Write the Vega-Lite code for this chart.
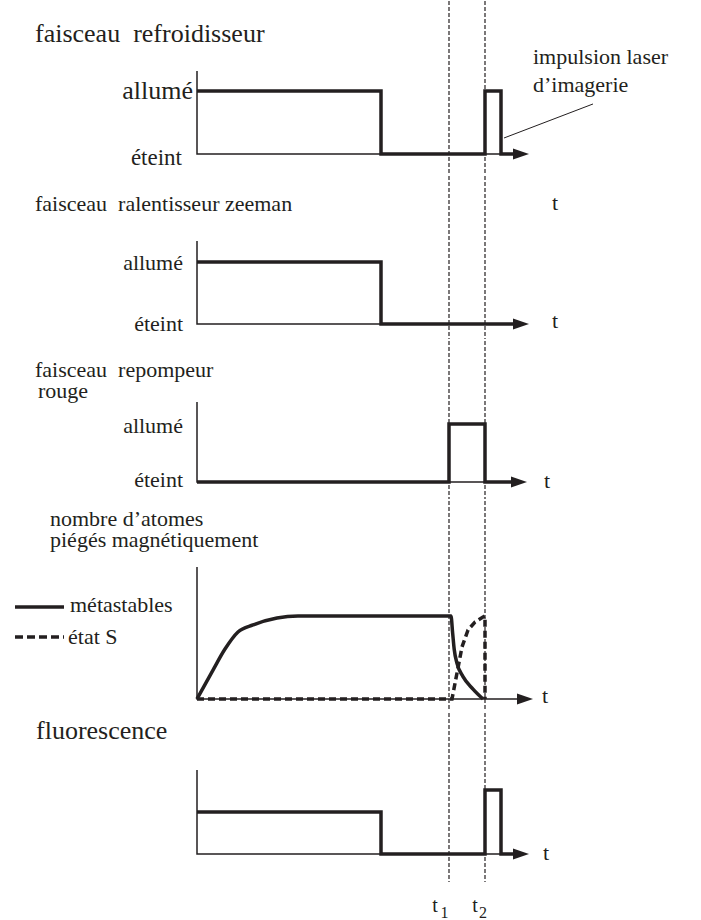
{
  "$schema": "https://vega.github.io/schema/vega-lite/v6.json",
  "padding": 0,
  "spacing": 0,
  "background": "white",
  "config": {"view": {"stroke": null}, "concat": {"spacing": 0}, "text": {"font": "Liberation Serif, Times New Roman, serif", "color": "#231f20"}},
  "resolve": {"scale": {"x": "independent", "y": "independent"}},
  "datasets": {
    "p1": [
      {"s": "tm", "t": 63, "v": 2.428, "v2": -0.317},
      {"s": "tm", "t": 72, "v": 2.428, "v2": -0.317},
      {"s": "ax", "t": 0, "v": 1.317}, {"s": "ax", "t": 0, "v": 0}, {"s": "ax", "t": 80, "v": 0},
      {"s": "sig", "t": 0, "v": 1}, {"s": "sig", "t": 46, "v": 0}, {"s": "sig", "t": 72, "v": 1}, {"s": "sig", "t": 76, "v": 0}, {"s": "sig", "t": 80, "v": 0},
      {"s": "arr", "t": 81, "v": 0},
      {"s": "title", "t": -40.5, "v": 1.778, "label": "faisceau\u00a0 refroidisseur"},
      {"s": "on", "t": -1, "v": 1, "label": "allumé"},
      {"s": "off", "t": -3.75, "v": -0.056, "label": "éteint"},
      {"s": "ann", "t": 84, "v": 1.429, "label": "impulsion laser"},
      {"s": "ann", "t": 84, "v": 0.984, "label": "d’imagerie"},
      {"s": "lead", "t": 76.75, "v": 0.254}, {"s": "lead", "t": 99, "v": 0.794}
    ],
    "p2": [
      {"s": "tm", "t": 63, "v": 2.387, "v2": -0.242},
      {"s": "tm", "t": 72, "v": 2.387, "v2": -0.242},
      {"s": "ax", "t": 0, "v": 1.339}, {"s": "ax", "t": 0, "v": 0}, {"s": "ax", "t": 80, "v": 0},
      {"s": "sig", "t": 0, "v": 1}, {"s": "sig", "t": 46, "v": 0}, {"s": "sig", "t": 80, "v": 0},
      {"s": "arr", "t": 81, "v": 0},
      {"s": "title", "t": -40.5, "v": 1.823, "label": "faisceau\u00a0 ralentisseur zeeman"},
      {"s": "on", "t": -3.5, "v": 0.976, "label": "allumé"},
      {"s": "on", "t": -3.5, "v": 0, "label": "éteint"},
      {"s": "tl", "t": 89.5, "v": 1.839, "label": "t"},
      {"s": "tl", "t": 89.5, "v": -0.065, "label": "t"}
    ],
    "p3": [
      {"s": "tm", "t": 63, "v": 2.431, "v2": -0.293},
      {"s": "tm", "t": 72, "v": 2.431, "v2": -0.293},
      {"s": "ax", "t": 0, "v": 1.379}, {"s": "ax", "t": 0, "v": 0}, {"s": "ax", "t": 80, "v": 0},
      {"s": "sig", "t": 0, "v": 0}, {"s": "sig", "t": 63, "v": 1}, {"s": "sig", "t": 72, "v": 0}, {"s": "sig", "t": 80, "v": 0},
      {"s": "arr", "t": 80.5, "v": 0},
      {"s": "title", "t": -40.5, "v": 1.81, "label": "faisceau\u00a0 repompeur"},
      {"s": "title", "t": -39.75, "v": 1.44, "label": "rouge"},
      {"s": "on", "t": -3.5, "v": 0.957, "label": "allumé"},
      {"s": "on", "t": -3.5, "v": 0.034, "label": "éteint"},
      {"s": "tl", "t": 87.5, "v": -0.103, "label": "t"}
    ],
    "p4": [
      {"s": "tm", "t": 63, "v": 2.386, "v2": -0.145},
      {"s": "tm", "t": 72, "v": 2.386, "v2": -0.145},
      {"s": "ax", "t": 0, "v": 1.59}, {"s": "ax", "t": 0, "v": 0}, {"s": "ax", "t": 81, "v": 0},
      {"s": "arr", "t": 82, "v": 0},
      {"s": "meta", "t": 0, "v": 0},
      {"s": "meta", "t": 4, "v": 0.349},
      {"s": "meta", "t": 7, "v": 0.602},
      {"s": "meta", "t": 10.25, "v": 0.807},
      {"s": "meta", "t": 14, "v": 0.892},
      {"s": "meta", "t": 20, "v": 0.976},
      {"s": "meta", "t": 25.25, "v": 1},
      {"s": "meta", "t": 63.5, "v": 1},
      {"s": "meta", "t": 63.9, "v": 0.8},
      {"s": "meta", "t": 64.3, "v": 0.6},
      {"s": "meta", "t": 65, "v": 0.43},
      {"s": "meta", "t": 66.5, "v": 0.27},
      {"s": "meta", "t": 69, "v": 0.12},
      {"s": "meta", "t": 71.5, "v": 0},
      {"s": "S", "t": 0, "v": 0},
      {"s": "S", "t": 63.75, "v": 0},
      {"s": "S", "t": 65, "v": 0.313},
      {"s": "S", "t": 66.25, "v": 0.627},
      {"s": "S", "t": 67.75, "v": 0.831},
      {"s": "S", "t": 69.5, "v": 0.928},
      {"s": "S", "t": 71.5, "v": 0.988},
      {"s": "S", "t": 72, "v": 1},
      {"s": "S", "t": 72, "v": 0},
      {"s": "lgm", "t": -45.5, "v": 1.108}, {"s": "lgm", "t": -33.25, "v": 1.108},
      {"s": "lgs", "t": -45.5, "v": 0.747}, {"s": "lgs", "t": -33.25, "v": 0.747},
      {"s": "lgt", "t": -31.75, "v": 1.133, "label": "métastables"},
      {"s": "lgt", "t": -32.25, "v": 0.747, "label": "état S"},
      {"s": "title", "t": -36.75, "v": 2.085, "label": "nombre d’atomes"},
      {"s": "title", "t": -36.75, "v": 1.83, "label": "piégés magnétiquement"},
      {"s": "tl", "t": 87, "v": -0.048, "label": "t"}
    ],
    "p5": [
      {"s": "tm", "t": 63, "v": 3.357, "v2": -0.667},
      {"s": "tm", "t": 72, "v": 3.357, "v2": -0.667},
      {"s": "ax", "t": 0, "v": 2.0}, {"s": "ax", "t": 0, "v": 0}, {"s": "ax", "t": 80, "v": 0},
      {"s": "sig", "t": 0, "v": 1}, {"s": "sig", "t": 46, "v": 0}, {"s": "sig", "t": 72, "v": 1.524}, {"s": "sig", "t": 76, "v": 0}, {"s": "sig", "t": 80, "v": 0},
      {"s": "arr", "t": 81, "v": 0},
      {"s": "title", "t": -40.25, "v": 2.738, "label": "fluorescence"},
      {"s": "tl", "t": 87.25, "v": -0.143, "label": "t"},
      {"s": "tn", "t": 59.5, "v": -1.381, "label": "t"},
      {"s": "tn", "t": 69.5, "v": -1.381, "label": "t"},
      {"s": "sub", "t": 61.9, "v": -1.524, "label": "1"},
      {"s": "sub", "t": 71.5, "v": -1.524, "label": "2"}
    ]
  },
  "vconcat": [
    {
      "width": 701, "height": 175,
      "data": {"name": "p1"},
      "encoding": {
        "x": {"field": "t", "type": "quantitative", "scale": {"domain": [-49.25, 126], "nice": false, "zero": false}, "axis": null},
        "y": {"field": "v", "type": "quantitative", "scale": {"domain": [-0.3333, 2.4444], "nice": false, "zero": false}, "axis": null}
      },
      "layer": [
        {"transform": [{"filter": "datum.s==='tm'"}], "mark": {"type": "rule", "strokeDash": [4, 2], "strokeWidth": 1.2, "color": "#231f20"}, "encoding": {"y2": {"field": "v2"}}},
        {"transform": [{"filter": "datum.s==='ax'"}], "mark": {"type": "line", "strokeWidth": 1.5, "color": "#231f20"}, "encoding": {"order": {"value": null}}},
        {"transform": [{"filter": "datum.s==='sig'"}], "mark": {"type": "line", "interpolate": "step-after", "strokeWidth": 3.5, "color": "#231f20"}, "encoding": {}},
        {"transform": [{"filter": "datum.s==='lead'"}], "mark": {"type": "line", "strokeWidth": 1, "color": "#231f20"}, "encoding": {}},
        {"transform": [{"filter": "datum.s==='arr'"}], "mark": {"type": "point", "shape": "M-1,-0.7L1,0L-1,0.7Z", "size": 256, "filled": true, "opacity": 1, "color": "#231f20", "strokeWidth": 0}},
        {"transform": [{"filter": "datum.s==='title'"}], "mark": {"type": "text", "align": "left", "baseline": "alphabetic", "fontSize": 26}, "encoding": {"text": {"field": "label"}}},
        {"transform": [{"filter": "datum.s==='on'"}], "mark": {"type": "text", "align": "right", "baseline": "middle", "fontSize": 26}, "encoding": {"text": {"field": "label"}}},
        {"transform": [{"filter": "datum.s==='off'"}], "mark": {"type": "text", "align": "right", "baseline": "middle", "fontSize": 23}, "encoding": {"text": {"field": "label"}}},
        {"transform": [{"filter": "datum.s==='ann'"}], "mark": {"type": "text", "align": "left", "baseline": "alphabetic", "fontSize": 22}, "encoding": {"text": {"field": "label"}}}
      ]
    },
    {
      "width": 701, "height": 165,
      "data": {"name": "p2"},
      "encoding": {
        "x": {"field": "t", "type": "quantitative", "scale": {"domain": [-49.25, 126], "nice": false, "zero": false}, "axis": null},
        "y": {"field": "v", "type": "quantitative", "scale": {"domain": [-0.2581, 2.4032], "nice": false, "zero": false}, "axis": null}
      },
      "layer": [
        {"transform": [{"filter": "datum.s==='tm'"}], "mark": {"type": "rule", "strokeDash": [4, 2], "strokeWidth": 1.2, "color": "#231f20"}, "encoding": {"y2": {"field": "v2"}}},
        {"transform": [{"filter": "datum.s==='ax'"}], "mark": {"type": "line", "strokeWidth": 1.5, "color": "#231f20"}, "encoding": {"order": {"value": null}}},
        {"transform": [{"filter": "datum.s==='sig'"}], "mark": {"type": "line", "interpolate": "step-after", "strokeWidth": 3.5, "color": "#231f20"}, "encoding": {}},
        {"transform": [{"filter": "datum.s==='arr'"}], "mark": {"type": "point", "shape": "M-1,-0.7L1,0L-1,0.7Z", "size": 256, "filled": true, "opacity": 1, "color": "#231f20", "strokeWidth": 0}},
        {"transform": [{"filter": "datum.s==='title'"}], "mark": {"type": "text", "align": "left", "baseline": "alphabetic", "fontSize": 22}, "encoding": {"text": {"field": "label"}}},
        {"transform": [{"filter": "datum.s==='on'"}], "mark": {"type": "text", "align": "right", "baseline": "middle", "fontSize": 22}, "encoding": {"text": {"field": "label"}}},
        {"transform": [{"filter": "datum.s==='tl'"}], "mark": {"type": "text", "align": "center", "baseline": "alphabetic", "fontSize": 22}, "encoding": {"text": {"field": "label"}}}
      ]
    },
    {
      "width": 701, "height": 160,
      "data": {"name": "p3"},
      "encoding": {
        "x": {"field": "t", "type": "quantitative", "scale": {"domain": [-49.25, 126], "nice": false, "zero": false}, "axis": null},
        "y": {"field": "v", "type": "quantitative", "scale": {"domain": [-0.3103, 2.4483], "nice": false, "zero": false}, "axis": null}
      },
      "layer": [
        {"transform": [{"filter": "datum.s==='tm'"}], "mark": {"type": "rule", "strokeDash": [4, 2], "strokeWidth": 1.2, "color": "#231f20"}, "encoding": {"y2": {"field": "v2"}}},
        {"transform": [{"filter": "datum.s==='ax'"}], "mark": {"type": "line", "strokeWidth": 1.5, "color": "#231f20"}, "encoding": {"order": {"value": null}}},
        {"transform": [{"filter": "datum.s==='sig'"}], "mark": {"type": "line", "interpolate": "step-after", "strokeWidth": 3.5, "color": "#231f20"}, "encoding": {}},
        {"transform": [{"filter": "datum.s==='arr'"}], "mark": {"type": "point", "shape": "M-1,-0.7L1,0L-1,0.7Z", "size": 256, "filled": true, "opacity": 1, "color": "#231f20", "strokeWidth": 0}},
        {"transform": [{"filter": "datum.s==='title'"}], "mark": {"type": "text", "align": "left", "baseline": "alphabetic", "fontSize": 22}, "encoding": {"text": {"field": "label"}}},
        {"transform": [{"filter": "datum.s==='on'"}], "mark": {"type": "text", "align": "right", "baseline": "middle", "fontSize": 22}, "encoding": {"text": {"field": "label"}}},
        {"transform": [{"filter": "datum.s==='tl'"}], "mark": {"type": "text", "align": "center", "baseline": "alphabetic", "fontSize": 22}, "encoding": {"text": {"field": "label"}}}
      ]
    },
    {
      "width": 701, "height": 212,
      "data": {"name": "p4"},
      "encoding": {
        "x": {"field": "t", "type": "quantitative", "scale": {"domain": [-49.25, 126], "nice": false, "zero": false}, "axis": null},
        "y": {"field": "v", "type": "quantitative", "scale": {"domain": [-0.1566, 2.3976], "nice": false, "zero": false}, "axis": null}
      },
      "layer": [
        {"transform": [{"filter": "datum.s==='tm'"}], "mark": {"type": "rule", "strokeDash": [4, 2], "strokeWidth": 1.2, "color": "#231f20"}, "encoding": {"y2": {"field": "v2"}}},
        {"transform": [{"filter": "datum.s==='ax'"}], "mark": {"type": "line", "strokeWidth": 1.5, "color": "#231f20"}, "encoding": {"order": {"value": null}}},
        {"transform": [{"filter": "datum.s==='meta'"}], "mark": {"type": "line", "interpolate": "monotone", "strokeWidth": 3.5, "color": "#231f20"}, "encoding": {}},
        {"transform": [{"filter": "datum.s==='S'"}], "mark": {"type": "line", "strokeWidth": 3.5, "strokeDash": [7, 4], "color": "#231f20"}, "encoding": {"order": {"value": null}}},
        {"transform": [{"filter": "datum.s==='lgm'"}], "mark": {"type": "line", "strokeWidth": 3.5, "color": "#231f20"}, "encoding": {}},
        {"transform": [{"filter": "datum.s==='lgs'"}], "mark": {"type": "line", "strokeWidth": 3.5, "strokeDash": [8, 4], "color": "#231f20"}, "encoding": {}},
        {"transform": [{"filter": "datum.s==='arr'"}], "mark": {"type": "point", "shape": "M-1,-0.7L1,0L-1,0.7Z", "size": 256, "filled": true, "opacity": 1, "color": "#231f20", "strokeWidth": 0}},
        {"transform": [{"filter": "datum.s==='title'"}], "mark": {"type": "text", "align": "left", "baseline": "alphabetic", "fontSize": 22}, "encoding": {"text": {"field": "label"}}},
        {"transform": [{"filter": "datum.s==='lgt'"}], "mark": {"type": "text", "align": "left", "baseline": "middle", "fontSize": 22}, "encoding": {"text": {"field": "label"}}},
        {"transform": [{"filter": "datum.s==='tl'"}], "mark": {"type": "text", "align": "center", "baseline": "alphabetic", "fontSize": 22}, "encoding": {"text": {"field": "label"}}}
      ]
    },
    {
      "width": 701, "height": 208,
      "data": {"name": "p5"},
      "encoding": {
        "x": {"field": "t", "type": "quantitative", "scale": {"domain": [-49.25, 126], "nice": false, "zero": false}, "axis": null},
        "y": {"field": "v", "type": "quantitative", "scale": {"domain": [-1.5714, 3.381], "nice": false, "zero": false}, "axis": null}
      },
      "layer": [
        {"transform": [{"filter": "datum.s==='tm'"}], "mark": {"type": "rule", "strokeDash": [4, 2], "strokeWidth": 1.2, "color": "#231f20"}, "encoding": {"y2": {"field": "v2"}}},
        {"transform": [{"filter": "datum.s==='ax'"}], "mark": {"type": "line", "strokeWidth": 1.5, "color": "#231f20"}, "encoding": {"order": {"value": null}}},
        {"transform": [{"filter": "datum.s==='sig'"}], "mark": {"type": "line", "interpolate": "step-after", "strokeWidth": 3.5, "color": "#231f20"}, "encoding": {}},
        {"transform": [{"filter": "datum.s==='arr'"}], "mark": {"type": "point", "shape": "M-1,-0.7L1,0L-1,0.7Z", "size": 256, "filled": true, "opacity": 1, "color": "#231f20", "strokeWidth": 0}},
        {"transform": [{"filter": "datum.s==='title'"}], "mark": {"type": "text", "align": "left", "baseline": "alphabetic", "fontSize": 26}, "encoding": {"text": {"field": "label"}}},
        {"transform": [{"filter": "datum.s==='tl'"}], "mark": {"type": "text", "align": "center", "baseline": "alphabetic", "fontSize": 22}, "encoding": {"text": {"field": "label"}}},
        {"transform": [{"filter": "datum.s==='tn'"}], "mark": {"type": "text", "align": "center", "baseline": "alphabetic", "fontSize": 20}, "encoding": {"text": {"field": "label"}}},
        {"transform": [{"filter": "datum.s==='sub'"}], "mark": {"type": "text", "align": "center", "baseline": "alphabetic", "fontSize": 16}, "encoding": {"text": {"field": "label"}}}
      ]
    }
  ]
}
